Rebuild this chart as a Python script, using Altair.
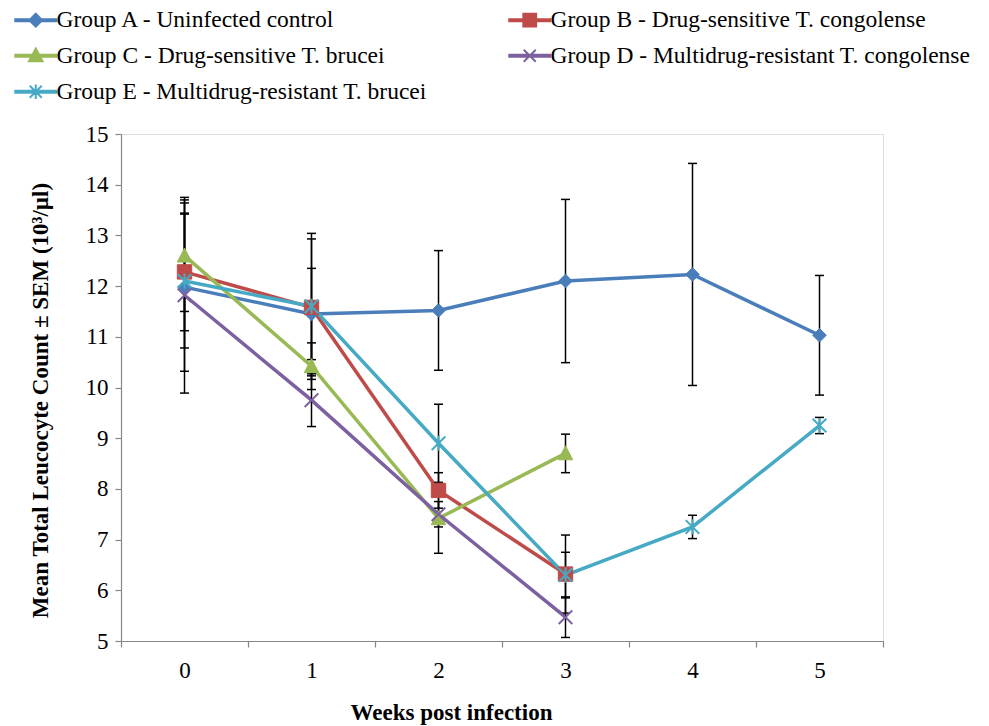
import altair as alt
import pandas as pd

weeks = [0, 1, 2, 3, 4, 5]
groups = [
    "Group A - Uninfected control",
    "Group B - Drug-sensitive T. congolense",
    "Group C - Drug-sensitive T. brucei",
    "Group D - Multidrug-resistant T. congolense",
    "Group E - Multidrug-resistant T. brucei",
]
colors = ["#4A7EBB", "#BE4B48", "#98B954", "#7D60A0", "#46AAC5"]

a_mean = [11.98, 11.45, 11.52, 12.10, 12.23, 11.03]
a_sem = [1.66, 0.90, 1.18, 1.61, 2.19, 1.18]
b_mean = [12.28, 11.58, 7.97, 6.32]
b_sem = [1.16, 1.35, 0.35, 0.77]
c_mean = [12.60, 10.42, 7.42, 8.70]
c_sem = [1.10, 0.46, 0.69, 0.38]
d_mean = [11.82, 9.75, 7.50, 5.47]
d_sem = [1.93, 0.52, 0.25, 0.40]
e_mean = [12.10, 11.60, 8.90, 6.30, 7.25, 9.25]
e_sem = [1.32, 1.44, 0.77, 0.45, 0.23, 0.16]

means = [a_mean, b_mean, c_mean, d_mean, e_mean]
sems = [a_sem, b_sem, c_sem, d_sem, e_sem]

rows = []
for g, m, s in zip(groups, means, sems):
    for w, mv, sv in zip(weeks, m, s):
        rows.append({"group": g, "week": w, "mean": mv, "lo": mv - sv, "hi": mv + sv})
df = pd.DataFrame(rows)

# ---- marker shapes (unit square -1..1) ----
marker_paths = [
    "M0,-0.85L0.85,0L0,0.85L-0.85,0Z",
    "M-0.9,-0.9H0.9V0.9H-0.9Z",
    "M0,-0.95L0.9,0.8H-0.9Z",
    "M-0.85,-0.85L0.85,0.85M-0.85,0.85L0.85,-0.85",
    "M-0.85,-0.85L0.85,0.85M-0.85,0.85L0.85,-0.85M0,-0.95L0,0.95",
]
marker_filled = [True, True, True, False, False]


def f(v):
    return ("%.3f" % v).rstrip("0").rstrip(".")


def poly(pts):
    return "M" + "L".join(f(x) + "," + f(y) for x, y in pts) + "Z"


def nested(pts, cx, cy, scales):
    out = ""
    for s in scales:
        out += poly([(cx + (x - cx) * s, cy + (y - cy) * s) for x, y in pts])
    return out


scales = [1.0, 0.7, 0.4, 0.1]
bar = "M-2.56,-0.125H2.56V0.125H-2.56Z"
legend_paths = [
    bar + nested([(0, -0.8), (0.8, 0), (0, 0.8), (-0.8, 0)], 0, 0, scales),
    bar + nested([(-0.8, -0.8), (0.8, -0.8), (0.8, 0.8), (-0.8, 0.8)], 0, 0, scales),
    bar + nested([(0, -0.9), (0.85, 0.7), (-0.85, 0.7)], 0, 0.17, scales),
    bar + "M-0.75,-0.75L0.75,0.75M-0.75,0.75L0.75,-0.75",
    bar + "M-0.75,-0.75L0.75,0.75M-0.75,0.75L0.75,-0.75M0,-0.9L0,0.9",
]
shape_expr = "[" + ",".join("'" + p + "'" for p in legend_paths) + "][datum.index]"

FONT = "Liberation Serif"
GRAY = "#868686"

x_enc = alt.X(
    "week:O",
    scale=alt.Scale(type="band", domain=weeks, paddingInner=0, paddingOuter=0),
    bandPosition=0.5,
    axis=alt.Axis(
        title="Weeks post infection",
        titleFont=FONT, titleFontSize=23, titleFontWeight="bold", titleColor="black",
        titleX=330, titleY=60, titleAlign="center", titleBaseline="top",
        labelAngle=0, labelFont=FONT, labelFontSize=23, labelColor="black",
        labelPadding=12, tickBand="extent", tickSize=6, tickColor=GRAY,
        domainColor=GRAY, domainWidth=1.2, tickWidth=1.2, grid=False,
    ),
)
y_scale = alt.Scale(domain=[5, 15], nice=False, zero=False)
y_enc = alt.Y(
    "mean:Q",
    scale=y_scale,
    axis=alt.Axis(
        title="Mean  Total Leucocyte Count ± SEM  (10³/µl)",
        titleFont=FONT, titleFontSize=23, titleFontWeight="bold", titleColor="black",
        titleX=-69, titleY=266, titleAngle=270, titleAlign="center", titleBaseline="bottom",
        values=list(range(5, 16)), labelFont=FONT, labelFontSize=23, labelColor="black",
        labelPadding=7, tickSize=6, tickColor=GRAY, tickWidth=1.2,
        domainColor=GRAY, domainWidth=1.2, grid=False,
    ),
)

leg = alt.Legend(
    title=None, orient="none", legendX=-109, legendY=-126, columns=2,
    direction="horizontal",
    labelFont=alt.ExprRef(expr="'Liberation Serif'"),
    labelFontSize=23.5, labelColor="black", labelLimit=800,
    symbolSize=256, symbolOffset=12, labelOffset=9, rowPadding=11, columnPadding=78,
    symbolStrokeWidth=2, symbolOpacity=1,
    symbolType=alt.ExprRef(expr=shape_expr),
)

base = alt.Chart(df)

lines = base.mark_line(strokeWidth=3.5).encode(
    x=x_enc,
    y=y_enc,
    color=alt.Color("group:N", scale=alt.Scale(domain=groups, range=colors), legend=leg),
    order="week:O",
)

err = base.mark_rule(color="black", strokeWidth=1.5).encode(
    x=x_enc, y=alt.Y("lo:Q", scale=y_scale), y2="hi:Q"
)
cap_lo = base.mark_tick(color="black", thickness=1.5, size=9, opacity=1).encode(
    x=x_enc, y=alt.Y("lo:Q", scale=y_scale)
)
cap_hi = base.mark_tick(color="black", thickness=1.5, size=9, opacity=1).encode(
    x=x_enc, y=alt.Y("hi:Q", scale=y_scale)
)

point_layers = []
for g, c, p, fl in zip(groups, colors, marker_paths, marker_filled):
    if fl:
        mk = base.mark_point(shape=p, size=256, filled=True, fill=c, stroke=c,
                             strokeWidth=1, opacity=1)
    else:
        mk = base.mark_point(shape=p, size=256, filled=False, stroke=c,
                             strokeWidth=2, opacity=1)
    point_layers.append(
        mk.encode(x=x_enc, y=alt.Y("mean:Q", scale=y_scale)).transform_filter(
            alt.datum.group == g
        )
    )

chart = (
    alt.layer(lines, err, cap_lo, cap_hi, *point_layers)
    .properties(
        width=762,
        height=507,
        autosize=alt.AutoSizeParams(type="none"),
        padding={"left": 113, "top": 126, "right": 98, "bottom": 85},
    )
    .configure_view(stroke=None)
    .configure(font=FONT, style={"guide-label": {"font": FONT}})
    .configure_legend(labelFont=FONT, labelFontSize=23.5, labelColor="black")
)

chart.save("out.html", embed_options={"renderer": "svg", "actions": False})
